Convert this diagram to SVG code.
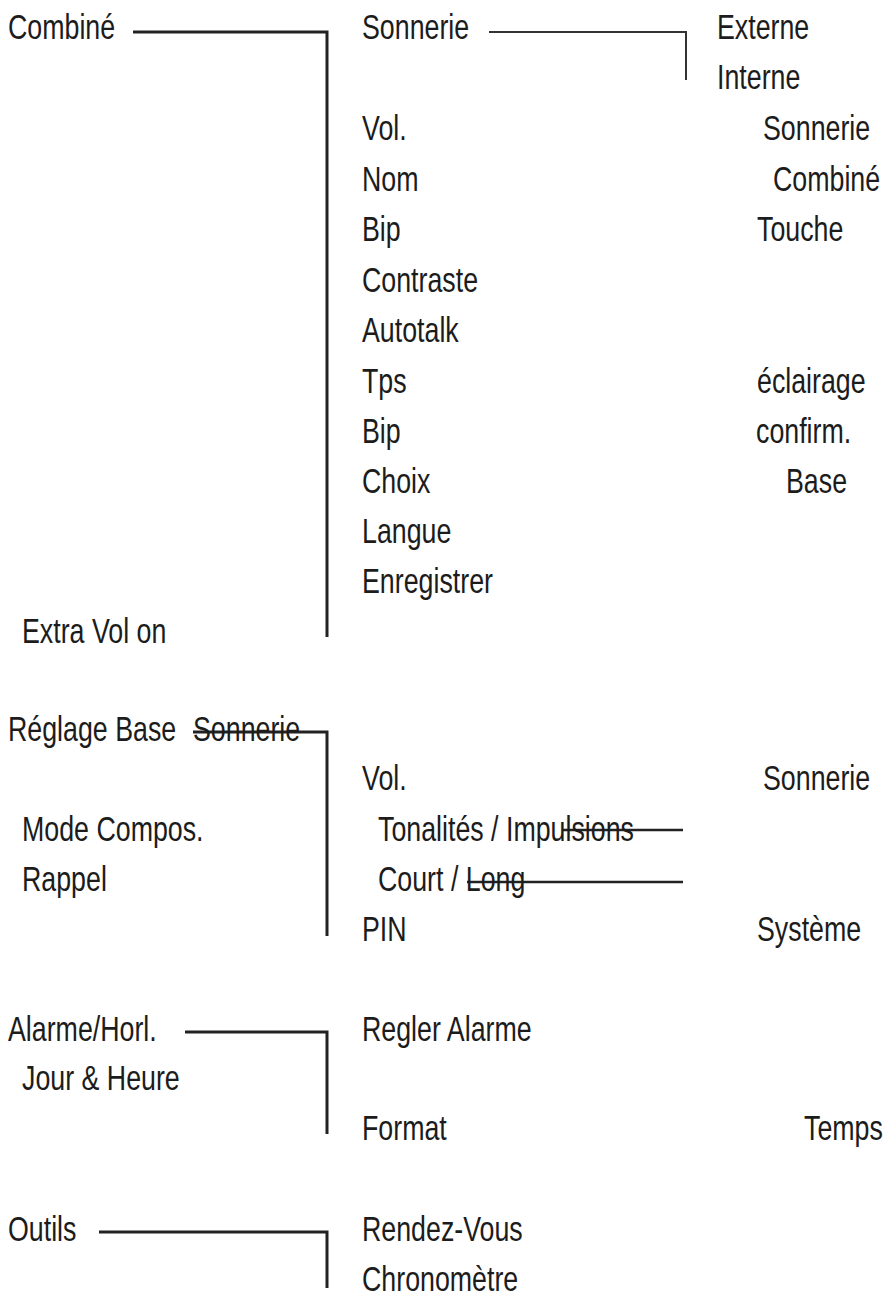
<svg xmlns="http://www.w3.org/2000/svg" width="887" height="1303" viewBox="0 0 887 1303">
<style>
text{font-family:"Liberation Sans",Arial,sans-serif;font-size:35px;fill:#1c1c1c}
.c{fill:none;stroke:#222;stroke-width:3}
.t{fill:none;stroke:#333;stroke-width:2}
.s{fill:none;stroke:#222;stroke-width:2.5}
</style>
<rect width="887" height="1303" fill="#fff"/>
<g id="connectors">
<path class="c" d="M133 32H327V637"/>
<path class="t" d="M489 32H686V80"/>
<path class="c" d="M193 732H327V936"/>
<path class="s" d="M562 830H683"/>
<path class="s" d="M467 882H683"/>
<path class="c" d="M185 1032H327V1134"/>
<path class="c" d="M99 1232H327V1288"/>
</g>
<g id="combine">
<text transform="translate(8,39) scale(0.765,1)">Combiné</text>
<text transform="translate(22,643) scale(0.765,1)">Extra Vol on</text>
</g>
<g id="combine-menu">
<text transform="translate(362,39) scale(0.765,1)">Sonnerie</text>
<text transform="translate(362,140) scale(0.765,1)">Vol.</text>
<text transform="translate(362,191) scale(0.765,1)">Nom</text>
<text transform="translate(362,241) scale(0.765,1)">Bip</text>
<text transform="translate(362,292) scale(0.765,1)">Contraste</text>
<text transform="translate(362,342) scale(0.765,1)">Autotalk</text>
<text transform="translate(362,393) scale(0.765,1)">Tps</text>
<text transform="translate(362,443) scale(0.765,1)">Bip</text>
<text transform="translate(362,493) scale(0.765,1)">Choix</text>
<text transform="translate(362,543) scale(0.765,1)">Langue</text>
<text transform="translate(362,593) scale(0.765,1)">Enregistrer</text>
</g>
<g id="combine-right">
<text transform="translate(717,39) scale(0.765,1)">Externe</text>
<text transform="translate(717,89) scale(0.765,1)">Interne</text>
<text transform="translate(763,140) scale(0.765,1)">Sonnerie</text>
<text transform="translate(773,191) scale(0.765,1)">Combiné</text>
<text transform="translate(757,241) scale(0.765,1)">Touche</text>
<text transform="translate(757,393) scale(0.765,1)">éclairage</text>
<text transform="translate(756,443) scale(0.765,1)">confirm.</text>
<text transform="translate(786,493) scale(0.765,1)">Base</text>
</g>
<g id="reglage-base">
<text transform="translate(8,741) scale(0.765,1)">Réglage Base</text>
<text transform="translate(193,741) scale(0.765,1)">Sonnerie</text>
<text transform="translate(22,841) scale(0.765,1)">Mode Compos.</text>
<text transform="translate(22,891) scale(0.765,1)">Rappel</text>
</g>
<g id="reglage-menu">
<text transform="translate(362,790) scale(0.765,1)">Vol.</text>
<text transform="translate(378,841) scale(0.765,1)">Tonalités / Impulsions</text>
<text transform="translate(378,891) scale(0.765,1)">Court / Long</text>
<text transform="translate(362,941) scale(0.765,1)">PIN</text>
<text transform="translate(763,790) scale(0.765,1)">Sonnerie</text>
<text transform="translate(757,941) scale(0.765,1)">Système</text>
</g>
<g id="alarme">
<text transform="translate(8,1041) scale(0.765,1)">Alarme/Horl.</text>
<text transform="translate(22,1090) scale(0.765,1)">Jour &amp; Heure</text>
<text transform="translate(362,1041) scale(0.765,1)">Regler Alarme</text>
<text transform="translate(362,1140) scale(0.765,1)">Format</text>
<text transform="translate(804,1140) scale(0.765,1)">Temps</text>
</g>
<g id="outils">
<text transform="translate(8,1241) scale(0.765,1)">Outils</text>
<text transform="translate(362,1241) scale(0.765,1)">Rendez-Vous</text>
<text transform="translate(362,1291) scale(0.765,1)">Chronomètre</text>
</g>
</svg>
